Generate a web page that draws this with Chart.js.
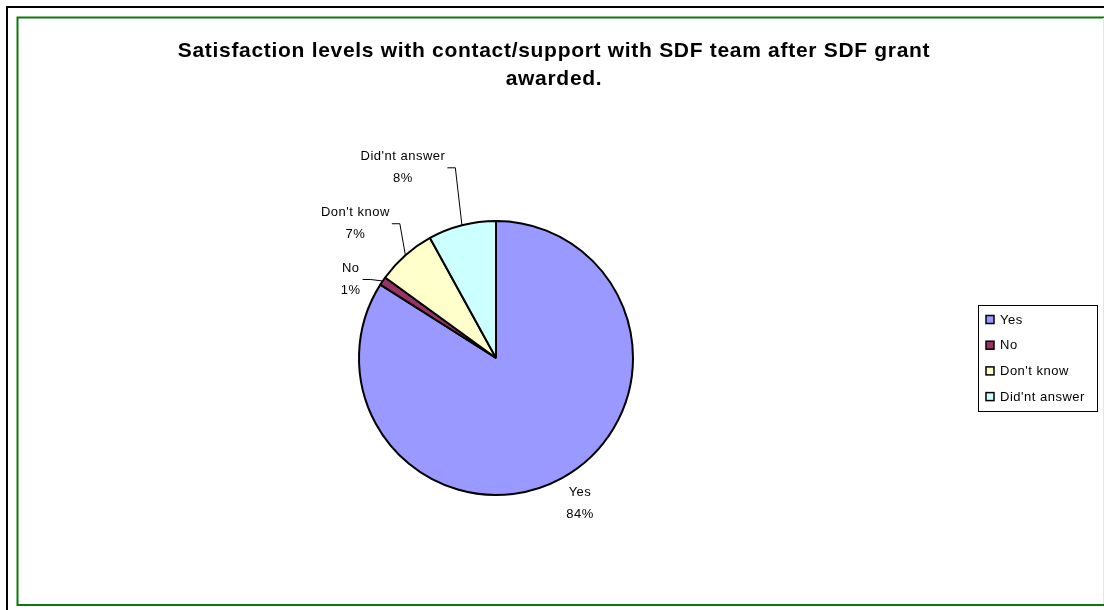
<!DOCTYPE html>
<html>
<head>
<meta charset="utf-8">
<title>SDF satisfaction</title>
<script src="https://cdn.jsdelivr.net/npm/chart.js@4/dist/chart.umd.min.js"></script>
<style>
  html, body { margin: 0; padding: 0; background: #fff; }
  #wrap { position: relative; width: 1104px; height: 610px; }
</style>
</head>
<body>
<div id="wrap"><canvas id="pie" width="1104" height="610"></canvas></div>
<script>
const categories = ["Yes", "No", "Don't know", "Did'nt answer"];
const shares = [84, 1, 7, 8];
const sliceColors = ["#9999FF", "#993366", "#FFFFCC", "#CCFFFF"];
const titleLines = ["Satisfaction levels with contact/support with SDF team after SDF grant", "awarded."];

const labelFont = "13px 'Liberation Sans', Arial, sans-serif";

// where each data label sits, relative to the point on the rim at the slice's middle
const labelPlacement = [
  { dx: 18, dy: 25, leader: false },
  { dx: -32, dy: -2, leader: true },
  { dx: -50, dy: -32, leader: true },
  { dx: -59, dy: -58, leader: true },
];

const framePlugin = {
  id: "frame",
  beforeDraw(chart) {
    const ctx = chart.ctx;
    ctx.save();
    ctx.fillStyle = "#fff";
    ctx.fillRect(0, 0, chart.width, chart.height);
    // outer black frame (top + left only visible)
    ctx.strokeStyle = "#000";
    ctx.lineWidth = 2;
    ctx.beginPath();
    ctx.moveTo(7, chart.height);
    ctx.lineTo(7, 7);
    ctx.lineTo(chart.width, 7);
    ctx.stroke();
    // inner green chart border
    ctx.strokeStyle = "#0b7a0b";
    ctx.lineWidth = 2;
    ctx.beginPath();
    ctx.moveTo(chart.width, 17.5);
    ctx.lineTo(17.5, 17.5);
    ctx.lineTo(17.5, 605);
    ctx.lineTo(chart.width, 605);
    ctx.stroke();
    ctx.strokeStyle = "#e4e4e4";
    ctx.lineWidth = 1;
    ctx.beginPath();
    ctx.moveTo(1103.5, 18);
    ctx.lineTo(1103.5, 604);
    ctx.stroke();

    // title
    ctx.fillStyle = "#000";
    ctx.font = "bold 21px 'Liberation Sans', Arial, sans-serif";
    ctx.letterSpacing = "0.7px";
    ctx.textAlign = "center";
    ctx.textBaseline = "middle";
    titleLines.forEach((line, i) => ctx.fillText(line, 554, 51 + i * 28));
    ctx.restore();
  },
};

const sliceLabelPlugin = {
  id: "sliceLabels",
  afterDatasetsDraw(chart) {
    const ctx = chart.ctx;
    const arcs = chart.getDatasetMeta(0).data;
    ctx.save();
    ctx.font = labelFont;
    ctx.letterSpacing = "0.5px";
    ctx.fillStyle = "#000";
    ctx.textAlign = "center";
    ctx.textBaseline = "middle";
    arcs.forEach((arc, i) => {
      const mid = (arc.startAngle + arc.endAngle) / 2;
      const ex = arc.x + Math.cos(mid) * arc.outerRadius;
      const ey = arc.y + Math.sin(mid) * arc.outerRadius;
      const place = labelPlacement[i];
      const cx = ex + place.dx;
      const cy = ey + place.dy;
      const lines = [categories[i], shares[i] + "%"];
      ctx.fillText(lines[0], cx, cy - 11);
      ctx.fillText(lines[1], cx, cy + 11);
      if (place.leader) {
        const w = Math.max(...lines.map((l) => ctx.measureText(l).width));
        const bx = cx + w / 2 + 2;
        ctx.strokeStyle = "#000";
        ctx.lineWidth = 1;
        ctx.beginPath();
        ctx.moveTo(bx, cy + 0.5);
        ctx.lineTo(bx + 8, cy + 0.5);
        ctx.lineTo(ex, ey);
        ctx.stroke();
      }
    });
    ctx.restore();
  },
};

const boxLegendPlugin = {
  id: "boxLegend",
  afterDraw(chart) {
    const ctx = chart.ctx;
    ctx.save();
    ctx.strokeStyle = "#000";
    ctx.lineWidth = 1;
    ctx.strokeRect(978.5, 305.5, 119, 106);
    ctx.font = labelFont;
    ctx.letterSpacing = "0.5px";
    ctx.textAlign = "left";
    ctx.textBaseline = "middle";
    categories.forEach((name, i) => {
      const y = 320 + i * 25.7;
      ctx.fillStyle = sliceColors[i];
      ctx.fillRect(986, y - 4.5, 8, 8);
      ctx.lineWidth = 1.5;
      ctx.strokeRect(986, y - 4.5, 8, 8);
      ctx.fillStyle = "#000";
      ctx.fillText(name, 1000, y);
    });
    ctx.restore();
  },
};

new Chart(document.getElementById("pie"), {
  type: "pie",
  data: {
    labels: categories,
    datasets: [{
      data: shares,
      backgroundColor: sliceColors,
      borderColor: "#000",
      borderWidth: 2,
    }],
  },
  options: {
    responsive: false,
    animation: false,
    radius: 137,
    layout: { padding: { left: 359, right: 471, top: 221, bottom: 115 } },
    plugins: {
      legend: { display: false },
      tooltip: { enabled: false },
      title: { display: false },
    },
  },
  plugins: [framePlugin, sliceLabelPlugin, boxLegendPlugin],
});
</script>
</body>
</html>
